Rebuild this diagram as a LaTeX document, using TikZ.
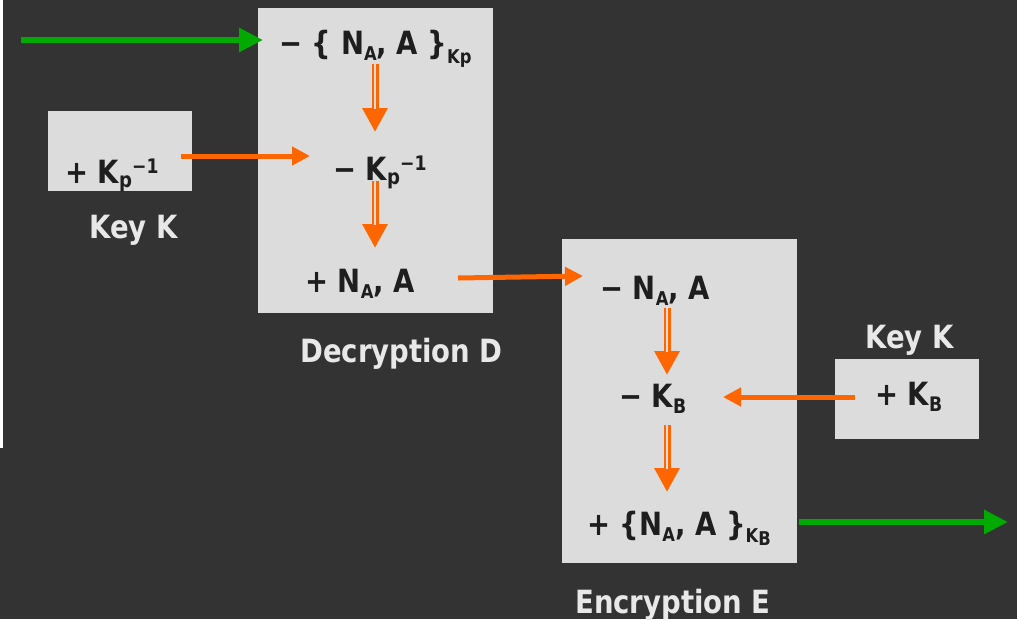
\documentclass[tikz,border=0pt]{standalone}
\usepackage{fontspec}
\setmainfont{DejaVu Sans}[FakeStretch=0.86]
\usetikzlibrary{arrows.meta,calc}
\definecolor{bg}{HTML}{333333}
\definecolor{panel}{HTML}{DCDCDC}
\definecolor{ink}{HTML}{1E1E1E}
\definecolor{pale}{HTML}{E8E8E8}
\definecolor{flow}{HTML}{00AA00}
\definecolor{keyor}{HTML}{FF6600}
% lowered / raised small text: {shift in pt}{size}{text}
\newcommand\lo[3]{\raisebox{-#1pt}{\fontsize{#2}{#2}\selectfont #3}}
\newcommand\hi[3]{\raisebox{#1pt}{\fontsize{#2}{#2}\selectfont #3}}
\begin{document}
\begin{tikzpicture}[x=1pt,y=-1pt,
  panelbox/.style={fill=panel, draw=none, inner sep=0pt},
  term/.style={text=ink, font=\fontsize{32}{32}\selectfont\bfseries, inner sep=0pt, anchor=base west},
  caption/.style={text=pale, font=\fontsize{32}{32}\selectfont\bfseries, inner sep=0pt, anchor=base west},
  flowarrow/.style={draw=flow, line width=6pt, -{Triangle[length=24pt,width=23pt]}},
  keyarrow/.style={draw=keyor, line width=5pt, -{Triangle[length=18pt,width=18pt]}},
  stepouter/.style={draw=keyor, line width=7pt, -{Triangle[length=24pt,width=24pt]}},
  stepinner/.style={draw=panel, line width=2pt}]
\useasboundingbox (0,0) rectangle (1017,619);
\fill[bg] (0,0) rectangle (1017,619);
\fill[white] (0,0) rectangle (3,448);

% panels
\node[panelbox, minimum width=235pt, minimum height=305pt] (dec) at (375.5,160.5) {};
\node[panelbox, minimum width=144pt, minimum height=80pt] (keyL) at (120,151) {};
\node[panelbox, minimum width=235pt, minimum height=324pt] (enc) at (679.5,401) {};
\node[panelbox, minimum width=144pt, minimum height=80pt] (keyR) at (907,399) {};

% terms
\node[term] (d1) at (279,54) {− \{ N\lo{6}{19}{A}, A \}\lo{9}{19}{Kp}};
\node[term] (d2) at (333,180) {− K\lo{4}{21}{p}\hi{10}{20}{−1}};
\node[term] (d3) at (305,292) {+ N\lo{6}{19}{A}, A};
\node[term] (kl) at (65,183) {+ K\lo{4}{21}{p}\hi{10}{20}{−1}};
\node[term] (e1) at (600,299) {− N\lo{6}{19}{A}, A};
\node[term] (e2) at (619,407) {− K\lo{6}{20}{B}};
\node[term] (e3) at (587,535) {+ \{N\lo{6}{19}{A}, A \}\lo{7}{19}{K\lo{3}{19}{B}}};
\node[term] (kr) at (875,405) {+ K\lo{6}{20}{B}};

% captions
\node[caption] (klcap) at (89,238) {Key K};
\node[caption] (deccap) at (300,362) {Decryption D};
\node[caption] (krcap) at (865,348) {Key K};
\node[caption] (enccap) at (575,613) {Encryption E};

% arrow end points
\coordinate (inS) at (21,40);     \coordinate (inE) at (263,40);
\coordinate (klS) at (181,156);   \coordinate (klE) at (310,156);
\coordinate (a1S) at (375,64);    \coordinate (a1E) at (375,132);
\coordinate (a2S) at (375,181);   \coordinate (a2E) at (375,248);
\coordinate (midS) at (458,278);  \coordinate (midE) at (583,276);
\coordinate (b1S) at (667,308);   \coordinate (b1E) at (667,375);
\coordinate (b2S) at (667,425);   \coordinate (b2E) at (667,492);
\coordinate (krS) at (855,397);   \coordinate (krE) at (723,397);
\coordinate (outS) at (799,522);  \coordinate (outE) at (1008,522);

% flow in and out
\draw[flowarrow] (inS) -- (inE);
\draw[flowarrow] (outS) -- (outE);

% key inputs and hand-over
\draw[keyarrow] (klS) -- (klE);
\draw[keyarrow] (midS) -- (midE);
\draw[keyarrow] (krS) -- (krE);

% double-shaft step arrows
\foreach \s/\e in {a1S/a1E, a2S/a2E, b1S/b1E, b2S/b2E}{
  \draw[stepouter] (\s) -- (\e);
  \draw[stepinner] (\s) -- ($(\e)+(0,-23)$);
}
\end{tikzpicture}
\end{document}
